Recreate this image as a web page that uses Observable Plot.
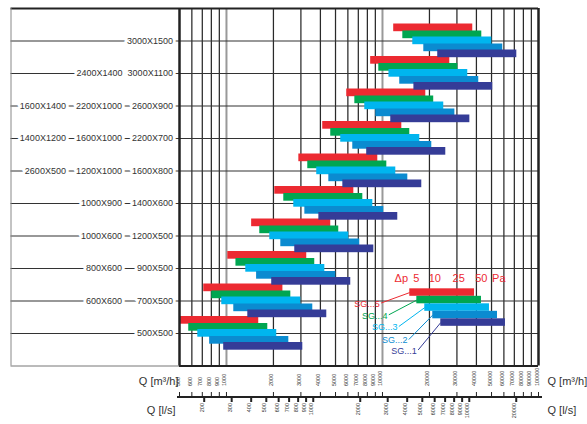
<!DOCTYPE html>
<html><head><meta charset="utf-8">
<script src="https://cdn.jsdelivr.net/npm/d3@7"></script>
<script src="https://cdn.jsdelivr.net/npm/@observablehq/plot@0.6"></script>
<style>
html,body{margin:0;padding:0;background:#fff;}
#chart{width:587px;height:424px;overflow:hidden;}
svg{display:block;}
</style></head><body><div id="chart"></div>
<script>
// ---------- DATA (rows listed bottom to top) ----------
const rowLabels = [
  ["500X500"],
  ["600X600","700X500"],
  ["800X600","900X500"],
  ["1000X600","1200X500"],
  ["1000X900","1400X600"],
  ["2600X500","1200X1000","1600X800"],
  ["1400X1200","1600X1000","2200X700"],
  ["1600X1400","2200X1000","2600X900"],
  ["2400X1400","3000X1100"],
  ["3000X1500"]
];
const seriesNames = ["SG...5","SG...4","SG...3","SG...2","SG...1"];
const seriesColors = ["#ec2a31","#00a651","#00b5ef","#0b8bd0","#353c97"];

// flow ranges in m3/h, per row (bottom to top)
const sg5From = [500, 715, 1020, 1450, 2040, 2910, 4140, 5900, 8400, 11800];
const sg5To   = [1610, 2300, 3270, 4660, 6550, 9330, 13300, 18950, 27000, 37900];
const sg4From = [573, 805, 1150, 1635, 2330, 3320, 4660, 6650, 9470, 13500];
const sg4To   = [1840, 2585, 3680, 5245, 7480, 10660, 14960, 21300, 30400, 43300];
const sg3From = [655, 933, 1330, 1895, 2700, 3790, 5400, 7700, 11000, 15640];
const sg3To   = [2100, 2995, 4270, 6080, 8670, 12170, 17340, 24700, 35200, 50200];
const sg2From = [780, 1114, 1560, 2230, 3180, 4530, 6450, 9060, 12900, 18400];
const sg2To   = [2510, 3575, 5020, 7150, 10190, 14530, 20700, 29100, 41400, 59000];
const sg1From = [960, 1370, 1950, 2740, 3910, 5570, 7930, 11300, 15900, 22600];
const sg1To   = [3085, 4395, 6260, 8800, 12530, 17860, 25450, 36300, 50900, 72600];

// legend (example bars) in m3/h
const legendFrom = [14960, 16600, 18670, 21000, 23640];
const legendTo   = [38900, 43100, 48500, 54600, 61400];
const dpLabels   = ["Δp","5","10","25","50","Pa"];
const dpLabelQ   = [13200, 16470, 21640, 30800, 42990, 55660];

const m3hTicks = [500,600,700,800,900,1000,2000,3000,4000,5000,6000,7000,8000,9000,
                  10000,20000,30000,40000,50000,60000,70000,80000,90000,100000];
const lsTicks  = [200,300,400,500,600,700,800,900,1000,2000,3000,4000,5000,6000,7000,8000,9000,10000,20000];
const LS_TO_M3H = 3.6;

// ---------- BUILD ----------
const fromArr = [sg5From, sg4From, sg3From, sg2From, sg1From];
const toArr   = [sg5To, sg4To, sg3To, sg2To, sg1To];
const ROWPX = 32.5;                       // px per row unit
const barTopPx = [-17, -10, -4, 3, 9];    // bar top offset from row line (px)
const barHPx = 7.7;
const bars = [];
for (let k = 0; k < 5; k++) {
  for (let r = 0; r < 10; r++) {
    const row = r + 1;
    bars.push({k, x1: fromArr[k][r], x2: toArr[k][r],
      y1: row - barTopPx[k] / ROWPX, y2: row - (barTopPx[k] + barHPx) / ROWPX});
  }
}
const gapCount = [0, 6, 6, 4, 4, 4, 4, 4, 2, 0];
const rows = rowLabels.map((parts, i) => ({
  y: i + 1,
  label: parts.join("\u00A0".repeat(gapCount[i] || 1))
}));

// legend geometry (data units)
const legTop = 2.375, legStep = 7.5 / ROWPX;
const legend = legendFrom.map((f, k) => ({k, x1: f, x2: legendTo[k],
  y1: legTop - k * legStep, y2: legTop - (k + 1) * legStep}));
const sgLabelQ = [9610, 10760, 12480, 14460, 16600];
const sgLabelY = [1.908, 1.545, 1.185, 0.785, 0.462];
const leaders = legend.map((b, k) => ({k, x1: sgLabelQ[k] * 1.02, y1: sgLabelY[k] + 0.03,
  x2: b.x1, y2: (b.y1 + b.y2) / 2}));

const font = "Liberation Sans, Arial, Helvetica, sans-serif";
const decades = new Set([1000, 10000]);

const chart = Plot.plot({
  width: 587, height: 424,
  marginLeft: 179, marginRight: 49, marginTop: 8, marginBottom: 58.5,
  style: {fontFamily: font, background: "#fff"},
  x: {type: "log", domain: [500, 100000], axis: null},
  y: {domain: [0, 11], axis: null},
  marks: [
    // vertical grid
    Plot.ruleX(m3hTicks.filter(d => d > 500 && d < 100000 && !decades.has(d)), {x: d => d, stroke: "#2a2a2a", strokeWidth: 1.25}),
    Plot.ruleX([...decades], {x: d => d, stroke: "#999", strokeWidth: 2}),
    // row lines across label area and plot
    Plot.ruleY(rows, {y: "y", insetLeft: -168.5, stroke: "#333", strokeWidth: 1.1}),
    // row labels with white halo
    Plot.text(rows, {y: "y", text: "label", frameAnchor: "left", textAnchor: "end", dx: -6.5,
      fontSize: 9, fill: "#333", stroke: "white", strokeWidth: 6}),
    // outer box lines
    Plot.ruleY([11], {insetLeft: -168.5, stroke: "#222", strokeWidth: 2}),
    Plot.ruleY([0], {insetLeft: -168.5, insetRight: 359, stroke: "#777", strokeWidth: 1}),
    Plot.ruleX([500], {dx: -168.5, stroke: "#888", strokeWidth: 1}),
    // bars
    Plot.rect(bars, {x1: "x1", x2: "x2", y1: "y1", y2: "y2", fill: d => seriesColors[d.k]}),
    // frame
    Plot.ruleY([0], {stroke: "#222", strokeWidth: 2}),
    Plot.ruleX([500, 100000], {stroke: "#222", strokeWidth: 2.5}),
    // legend
    Plot.rect(legend, {x1: "x1", x2: "x2", y1: "y1", y2: "y2", fill: d => seriesColors[d.k]}),
    Plot.link(leaders, {x1: "x1", y1: "y1", x2: "x2", y2: "y2", stroke: d => seriesColors[d.k], strokeWidth: 1}),
    Plot.text(leaders, {x: d => sgLabelQ[d.k], y: d => sgLabelY[d.k], text: d => seriesNames[d.k],
      textAnchor: "end", fontSize: 9, fill: d => seriesColors[d.k]}),
    Plot.text(dpLabels, {x: (d, i) => dpLabelQ[i], y: () => 2.708, text: d => d, fontSize: 11, fill: "#ec2a31"}),
    // m3/h axis labels
    Plot.text(m3hTicks, {x: d => d, text: d => String(d), frameAnchor: "bottom", dy: 20,
      rotate: -90, textAnchor: "start", fontSize: 5.5, fill: "#333"}),
    // l/s axis
    Plot.ruleY([0], {dy: 31, insetLeft: -2, insetRight: -4, stroke: "#222", strokeWidth: 2}),
    Plot.ruleX(m3hTicks, {x: d => d, insetTop: 384, insetBottom: -31, stroke: "#222", strokeWidth: 1}),
    Plot.ruleX(lsTicks, {x: d => d * LS_TO_M3H, insetTop: 388.5, insetBottom: -36.5, stroke: "#222", strokeWidth: 2}),
    Plot.text(lsTicks, {x: d => d * LS_TO_M3H, text: d => String(d), frameAnchor: "bottom", dy: 37,
      rotate: -90, textAnchor: "end", fontSize: 5.5, fill: "#333"}),
    // axis titles
    Plot.text(["Q [m³/h]"], {text: d => d, frameAnchor: "bottom-right", dx: 9, dy: 18.5, textAnchor: "start", fontSize: 11, fill: "#333"}),
    Plot.text(["Q [l/s]"], {text: d => d, frameAnchor: "bottom-right", dx: 9, dy: 47.5, textAnchor: "start", fontSize: 11, fill: "#333"}),
    Plot.text(["Q [m³/h]"], {text: d => d, frameAnchor: "bottom-left", dx: -1, dy: 18.5, textAnchor: "end", fontSize: 11, fill: "#333"}),
    Plot.text(["Q [l/s]"], {text: d => d, frameAnchor: "bottom-left", dx: -4, dy: 47.5, textAnchor: "end", fontSize: 11, fill: "#333"})
  ]
});
document.getElementById("chart").appendChild(chart);
</script>
</body></html>
